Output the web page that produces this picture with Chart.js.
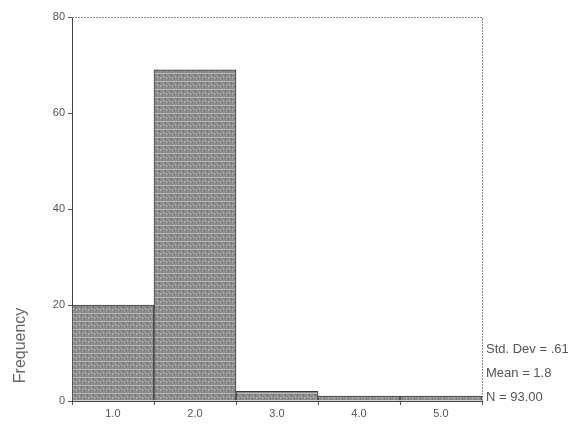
<!DOCTYPE html>
<html>
<head>
<meta charset="utf-8">
<style>
  html, body { margin: 0; padding: 0; background: #fff; }
  #wrap { width: 582px; height: 427px; }
</style>
</head>
<body>
<div id="wrap"><canvas id="histChart" width="582" height="427"></canvas></div>
<script src="https://cdn.jsdelivr.net/npm/chart.js"></script>
<script>
// histogram data
const binLabels = ['1.0', '2.0', '3.0', '4.0', '5.0'];
const frequencies = [20, 69, 2, 1, 1];
const statLines = ['Std. Dev = .61', 'Mean = 1.8', 'N = 93.00'];

// grey hatched fill, like the scanned SPSS bars
function makeHatch() {
    const c = document.createElement('canvas');
    c.width = 6; c.height = 8;
    const g = c.getContext('2d');
    g.fillStyle = '#8c8c8c';
    g.fillRect(0, 0, 6, 8);
    g.fillStyle = '#b8b8b8';
    g.fillRect(0, 1, 6, 1);
    g.fillRect(1, 4, 1, 2);
    g.fillRect(4, 5, 1, 2);
    g.fillStyle = '#6a6a6a';
    g.fillRect(3, 2, 1, 2);
    g.fillRect(0, 6, 1, 1);
    return g.createPattern(c, 'repeat');
}

// frame + stats text on the right
const framePlugin = {
    id: 'frame',
    afterDraw(chart) {
        const { ctx, chartArea: a } = chart;
        ctx.save();
        ctx.strokeStyle = '#8a8a8a';
        ctx.lineWidth = 1;
        ctx.setLineDash([2, 1]);
        ctx.beginPath();
        ctx.moveTo(a.left, a.top + 0.5);
        ctx.lineTo(a.right + 0.5, a.top + 0.5);
        ctx.lineTo(a.right + 0.5, a.bottom);
        ctx.stroke();
        ctx.setLineDash([]);
        ctx.fillStyle = '#555';
        ctx.font = '13px "Liberation Sans", Arial, sans-serif';
        ctx.textAlign = 'left';
        ctx.textBaseline = 'middle';
        statLines.forEach((t, i) => {
            ctx.fillText(t, a.right + 4, a.bottom - 52 + i * 24);
        });
        ctx.restore();
    }
};

document.addEventListener("DOMContentLoaded", function() {
    const ctx = document.getElementById('histChart').getContext('2d');
    new Chart(ctx, {
        type: 'bar',
        data: {
            labels: binLabels,
            datasets: [{
                label: 'Frequency',
                data: frequencies,
                backgroundColor: makeHatch(),
                borderColor: '#3a3a3a',
                borderWidth: 1,
                barPercentage: 1,
                categoryPercentage: 1,
            }]
        },
        options: {
            responsive: false,
            animation: false,
            layout: { padding: { left: 0, right: 100, top: 17, bottom: 0 } },
            plugins: {
                legend: { display: false },
                tooltip: { enabled: false }
            },
            scales: {
                x: {
                    grid: { drawOnChartArea: false, tickLength: 4, color: '#555' },
                    border: { color: '#444', width: 1 },
                    ticks: { color: '#555', font: { size: 11, family: '"Liberation Sans", Arial, sans-serif' }, padding: 2 },
                    afterFit(scale) { scale.height = 26; }
                },
                y: {
                    min: 0,
                    max: 80,
                    ticks: { stepSize: 20, color: '#555', font: { size: 11, family: '"Liberation Sans", Arial, sans-serif' }, padding: 3 },
                    grid: { drawOnChartArea: false, tickLength: 4, color: '#555' },
                    border: { color: '#444', width: 1 },
                    title: {
                        display: true,
                        text: '\u00a0\u00a0\u00a0\u00a0Frequency',
                        align: 'start',
                        color: '#666',
                        font: { size: 16, family: '"Liberation Sans", Arial, sans-serif' },
                        padding: { top: 11, bottom: 0 }
                    },
                    afterFit(scale) { scale.width = 72; }
                }
            }
        },
        plugins: [framePlugin]
    });
});
</script>
</body>
</html>
